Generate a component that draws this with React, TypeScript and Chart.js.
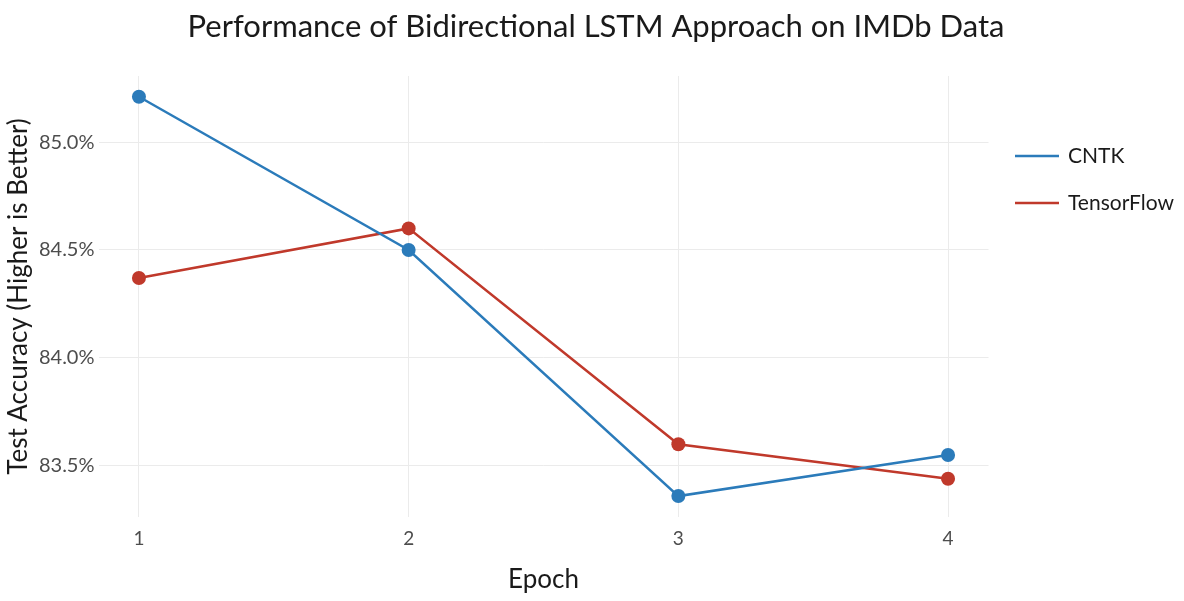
import React, { useEffect, useRef } from "react";
import { Chart, registerables } from "chart.js";

Chart.register(...registerables);

const epochs = [1, 2, 3, 4];
const cntkAcc = [85.21, 84.5, 83.36, 83.55];
const tensorflowAcc = [84.37, 84.6, 83.6, 83.44];
const yTicks = [83.5, 84.0, 84.5, 85.0];
const seriesNames = ["CNTK", "TensorFlow"];
const seriesColors = ["#2b7bba", "#c0392b"];
const titleText = "Performance of Bidirectional LSTM Approach on IMDb Data";
const xTitleText = "Epoch";
const yTitleText = "Test Accuracy (Higher is Better)";

const FONT = "Lato, 'Open Sans', sans-serif";

const overlayPlugin = {
  id: "overlay",
  afterDraw(chart: any) {
    const ctx = chart.ctx as CanvasRenderingContext2D;
    ctx.save();
    ctx.fillStyle = "#1a1a1a";
    ctx.font = `31px ${FONT}`;
    ctx.textAlign = "center";
    ctx.textBaseline = "middle";
    ctx.fillText(titleText, 596, 27);

    seriesNames.forEach((name, i) => {
      const y = 156 + i * 47;
      ctx.strokeStyle = seriesColors[i];
      ctx.lineWidth = 2.5;
      ctx.beginPath();
      ctx.moveTo(1015, y);
      ctx.lineTo(1059, y);
      ctx.stroke();
      ctx.fillStyle = "#1a1a1a";
      ctx.font = `21px ${FONT}`;
      ctx.textAlign = "left";
      ctx.textBaseline = "middle";
      ctx.fillText(name, 1068, y);
    });
    ctx.restore();
  },
};

export default function App() {
  const canvasRef = useRef<HTMLCanvasElement | null>(null);

  useEffect(() => {
    document.body.style.margin = "0";
    const canvas = canvasRef.current;
    if (!canvas) return;
    const datasets = [cntkAcc, tensorflowAcc].map((vals, i) => ({
      label: seriesNames[i],
      data: epochs.map((e, j) => ({ x: e, y: vals[j] })),
      borderColor: seriesColors[i],
      backgroundColor: seriesColors[i],
      borderWidth: 2.5,
      pointRadius: 7,
      pointHoverRadius: 7,
      pointBorderWidth: 0,
      tension: 0,
    }));
    const chart = new Chart(canvas, {
      type: "line",
      data: { datasets },
      plugins: [overlayPlugin],
      options: {
        responsive: false,
        animation: false,
        devicePixelRatio: 1,
        layout: { padding: { top: 76, right: 195.5, left: 0, bottom: 0 } },
        plugins: {
          legend: { display: false },
          title: { display: false },
          tooltip: { enabled: false },
        },
        scales: {
          x: {
            type: "linear",
            min: 0.85,
            max: 4.15,
            afterBuildTicks: (scale: any) => {
              scale.ticks = epochs.map((v) => ({ value: v }));
            },
            afterFit: (scale: any) => {
              scale.height = 84;
            },
            grid: { color: "#ebebeb", lineWidth: 1, drawTicks: false },
            border: { display: false },
            ticks: {
              color: "#4d4d4d",
              font: { family: FONT, size: 19 },
              padding: 10,
              callback: (v: any) => String(v),
            },
            title: {
              display: true,
              text: xTitleText,
              color: "#1a1a1a",
              font: { family: FONT, size: 26 },
              padding: { top: 0, bottom: 6 },
            },
          },
          y: {
            type: "linear",
            min: 83.263,
            max: 85.306,
            afterBuildTicks: (scale: any) => {
              scale.ticks = yTicks.map((v) => ({ value: v }));
            },
            afterFit: (scale: any) => {
              scale.width = 98.5;
            },
            grid: { color: "#ebebeb", lineWidth: 1, drawTicks: false },
            border: { display: false },
            ticks: {
              color: "#4d4d4d",
              font: { family: FONT, size: 20 },
              padding: 4,
              callback: (v: any) => Number(v).toFixed(1) + "%",
            },
            title: {
              display: true,
              text: yTitleText,
              color: "#1a1a1a",
              font: { family: FONT, size: 26 },
              padding: { top: 3, bottom: 0 },
            },
          },
        },
      },
    });
    return () => chart.destroy();
  }, []);

  return (
    <div style={{ width: 1184, height: 601, background: "#ffffff" }}>
      <canvas ref={canvasRef} width={1184} height={601} />
    </div>
  );
}
